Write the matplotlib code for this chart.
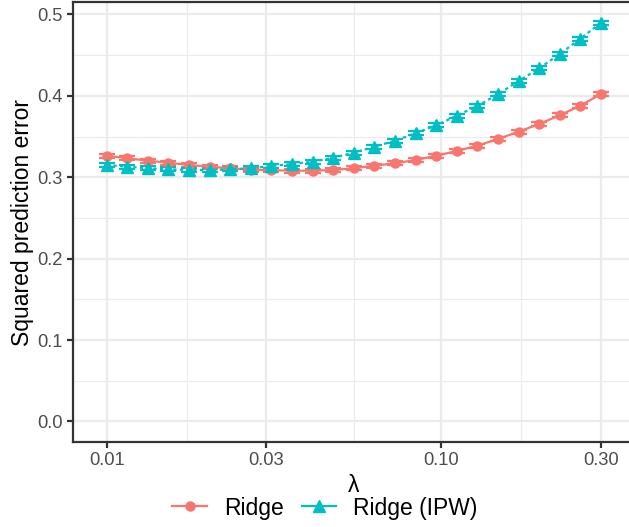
import numpy as np
import matplotlib
matplotlib.use("Agg")
import matplotlib.pyplot as plt
from matplotlib.lines import Line2D

plt.rcParams['font.family'] = ['Liberation Sans', 'DejaVu Sans']

# ---- data ----
lam = np.logspace(np.log10(0.01), np.log10(0.3), 25)
ridge = [0.3265, 0.3233, 0.3204, 0.3179, 0.3151, 0.3130, 0.3111, 0.3092, 0.3088,
         0.3081, 0.3081, 0.3090, 0.3111, 0.3143, 0.3172, 0.3213, 0.3265, 0.3323,
         0.3388, 0.3471, 0.3560, 0.3655, 0.3762, 0.3880, 0.4023]
ridge_se = [0.0025] * 25
ridge_ipw = [0.3151, 0.3130, 0.3111, 0.3098, 0.3090, 0.3090, 0.3098, 0.3111, 0.3139,
             0.3163, 0.3192, 0.3240, 0.3302, 0.3376, 0.3450, 0.3541, 0.3639, 0.3757,
             0.3876, 0.4020, 0.4183, 0.4339, 0.4515, 0.4703, 0.4899]
ridge_ipw_se = [0.0025] * 25
series_names = ["Ridge", "Ridge (IPW)"]
x_ticks = [0.01, 0.03, 0.10, 0.30]
x_ticklabels = ["0.01", "0.03", "0.10", "0.30"]
y_ticks = [0.0, 0.1, 0.2, 0.3, 0.4, 0.5]

RED = "#F8766D"
CYAN = "#00BFC4"

W, H = 629, 527
fig = plt.figure(figsize=(W / 100, H / 100), dpi=100)
left, right, top, bottom = 73.3, 634.4, 1.7, 442.0
ax = fig.add_axes([left / W, 1 - bottom / H, (right - left) / W, (bottom - top) / H])

ax.set_xscale('log')
pad = 0.0998
ax.set_xlim(10 ** (np.log10(0.01) - pad), 10 ** (np.log10(0.3) + pad))
ax.set_ylim(-0.0252, 0.5157)

# grid
for v in x_ticks:
    ax.axvline(v, color="#EBEBEB", lw=1.6, zorder=0)
for a, b in zip(x_ticks[:-1], x_ticks[1:]):
    ax.axvline(np.sqrt(a * b), color="#EBEBEB", lw=0.8, zorder=0)
for v in y_ticks:
    ax.axhline(v, color="#EBEBEB", lw=1.6, zorder=0)
for v in np.arange(0.05, 0.5, 0.1):
    ax.axhline(v, color="#EBEBEB", lw=0.8, zorder=0)

# series
ax.errorbar(lam, ridge, yerr=ridge_se, fmt='none', ecolor=RED, elinewidth=1.6,
            capsize=6.1, capthick=1.6, zorder=3)
ax.plot(lam, ridge, color=RED, lw=1.6, marker='o', ms=6.5, zorder=4)
ax.errorbar(lam, ridge_ipw, yerr=ridge_ipw_se, fmt='none', ecolor=CYAN, elinewidth=1.6,
            capsize=6.1, capthick=1.6, zorder=3)
ax.plot(lam, ridge_ipw, color=CYAN, lw=1.6, marker='^', ms=8, zorder=4,
        dashes=(1.5, 1.5))

ax.set_xticks(x_ticks)
ax.set_xticklabels(x_ticklabels)
ax.xaxis.set_minor_locator(matplotlib.ticker.NullLocator())
ax.set_yticks(y_ticks)
ax.set_yticklabels([f"{v:.1f}" for v in y_ticks])
ax.tick_params(axis='both', which='major', length=4.1, width=1.6, color="#333333",
               labelsize=13.2, labelcolor="#4D4D4D", pad=3.3)

for s in ax.spines.values():
    s.set_color("#333333")
    s.set_linewidth(1.6)

fig.text(353.5 / W, 1 - 485 / H, "λ", ha='center', va='center', fontsize=16.5)
fig.text(23 / W, 1 - 222 / H, "Squared prediction error", rotation=90,
         ha='center', va='center', fontsize=16.5)

handles = [
    Line2D([], [], color=RED, lw=1.6, marker='o', ms=6.5),
    Line2D([], [], color=CYAN, lw=1.6, marker='^', ms=8),
]
fig.legend(handles, series_names, loc='center', bbox_to_anchor=(325 / W, 1 - 508 / H),
           ncol=2, frameon=False, fontsize=16.5, handlelength=1.52,
           handletextpad=0.74, columnspacing=0.78, borderpad=0, borderaxespad=0)

fig.savefig("out.png", dpi=100)
